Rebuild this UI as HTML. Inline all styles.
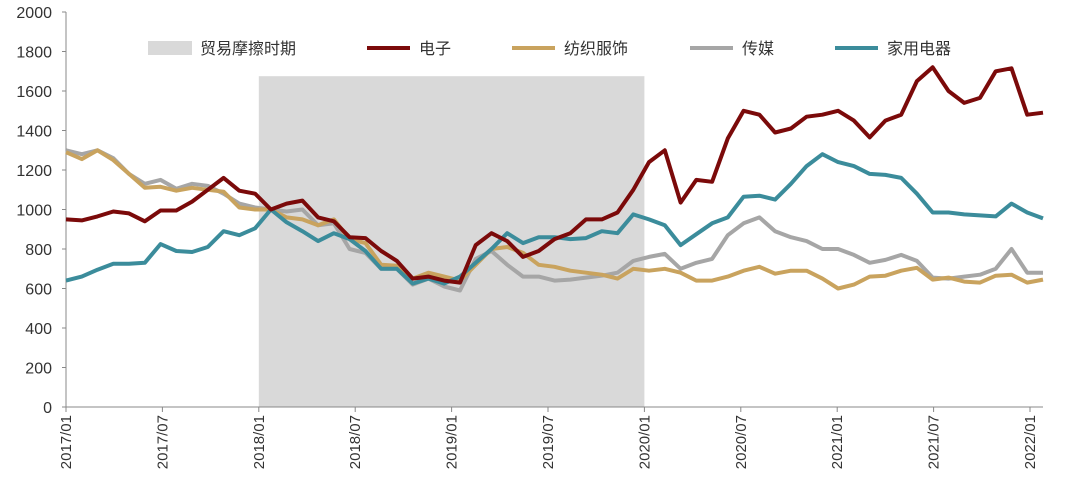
<!DOCTYPE html>
<html><head><meta charset="utf-8">
<style>
html,body{margin:0;padding:0;background:#fff;}
svg{display:block;font-family:"Liberation Sans","Noto Sans CJK SC",sans-serif;}
</style></head>
<body>
<svg id="chart" width="1080" height="494" viewBox="0 0 1080 494">
  <g id="shade"></g>
  <g id="axes"></g>
  <g id="series"></g>
  <g id="legend"></g>
</svg>
<script>
const yTicks = [0,200,400,600,800,1000,1200,1400,1600,1800,2000];
const xTickLabels = ["2017/01","2017/07","2018/01","2018/07","2019/01","2019/07","2020/01","2020/07","2021/01","2021/07","2022/01"];
const xTickMonth = [0,6,12,18,24,30,36,42,48,54,60];
const shadeStartMonth = 12, shadeEndMonth = 36, shadeTop = 1675;
const electronics = [950,945,965,990,980,940,995,995,1040,1100,1160,1095,1080,1000,1030,1045,960,940,860,855,790,740,650,660,640,630,820,880,840,760,790,850,880,950,950,985,1100,1240,1300,1035,1150,1140,1360,1500,1480,1390,1410,1470,1480,1500,1450,1365,1450,1480,1650,1720,1600,1540,1565,1700,1715,1480,1490];
const textile = [1290,1255,1300,1250,1180,1110,1115,1095,1110,1100,1090,1010,1000,1000,960,950,920,950,850,830,720,715,650,680,660,640,720,800,810,780,720,710,690,680,670,650,700,690,700,680,640,640,660,690,710,675,690,690,650,600,620,660,665,690,705,645,655,635,630,665,670,630,645];
const media = [1300,1280,1300,1260,1180,1130,1150,1105,1130,1120,1080,1030,1010,1000,990,1000,920,930,800,780,700,700,620,650,610,590,750,790,720,660,660,640,645,655,665,680,740,760,775,700,730,750,870,930,960,890,860,840,800,800,770,730,745,770,740,655,650,660,670,700,800,680,680];
const appliances = [640,660,695,725,725,730,825,790,785,810,890,870,905,1000,935,890,840,880,850,790,700,700,625,650,625,660,730,800,880,830,860,860,850,855,890,880,975,950,920,820,875,930,960,1065,1070,1050,1130,1220,1280,1240,1220,1180,1175,1160,1080,985,985,975,970,965,1030,985,955];

const NS="http://www.w3.org/2000/svg";
const X0=66, X1=1043, Y0=407, Y1=12;
const n = electronics.length;
function xs(i){return X0 + i*(X1-X0)/(n-1);}
function xm(m){return X0 + m*(1030-X0)/60;}
function ys(v){return Y0 - v*(Y0-Y1)/2000;}
function mk(tag, attrs, parent){const e=document.createElementNS(NS,tag);for(const k in attrs)e.setAttribute(k,attrs[k]);parent.appendChild(e);return e;}

const shade=document.getElementById('shade');
const sr=mk('rect',{x:xm(shadeStartMonth),y:ys(shadeTop),width:xm(shadeEndMonth)-xm(shadeStartMonth),height:Y0-ys(shadeTop),fill:'#d9d9d9'},shade);



const axes=document.getElementById('axes');
const ya=mk('line',{x1:X0,y1:Y1,x2:X0,y2:Y0,stroke:'#888','stroke-width':1},axes);


const xa=mk('line',{x1:X0,y1:Y0,x2:X1,y2:Y0,stroke:'#888','stroke-width':1},axes);


yTicks.forEach(v=>{
  const t=mk('text',{x:52,y:ys(v)+6,'text-anchor':'end','font-size':16,fill:'#333'},axes);
  t.textContent=v;
  
  
  mk('line',{x1:X0-4,y1:ys(v),x2:X0,y2:ys(v),stroke:'#888'},axes);
});
xTickLabels.forEach((lab,k)=>{
  const x=xm(xTickMonth[k]);
  mk('line',{x1:x,y1:Y0,x2:x,y2:Y0+5,stroke:'#888'},axes);
  const t=mk('text',{x:0,y:0,'text-anchor':'end','font-size':15,fill:'#333',transform:`translate(${x+5},${Y0+8}) rotate(-90)`},axes);
  t.textContent=lab;
  
  
});

const seriesG=document.getElementById('series');
const defs=[[media,'#a6a6a6','media-line'],[textile,'#c9a35e','textile-line'],[appliances,'#3b8c9b','appliances-line'],[electronics,'#7b0a0a','electronics-line']];
defs.forEach(([arr,col,name])=>{
  const pts=arr.map((v,i)=>xs(i).toFixed(1)+','+ys(v).toFixed(1)).join(' ');
  const p=mk('polyline',{points:pts,fill:'none',stroke:col,'stroke-width':4,'stroke-linejoin':'round'},seriesG);
  
  
});

const legend=document.getElementById('legend');
const items=[['贸易摩擦时期','#d9d9d9',148,'rect'],['电子','#7b0a0a',367,'line'],['纺织服饰','#c9a35e',512,'line'],['传媒','#a6a6a6',690,'line'],['家用电器','#3b8c9b',835,'line']];
items.forEach(([lab,col,x,kind])=>{
  const g=mk('g',{},legend);
  
  
  if(kind==='rect') mk('rect',{x:x,y:41,width:44,height:14,fill:col},g);
  else mk('line',{x1:x,y1:48,x2:x+43,y2:48,stroke:col,'stroke-width':4},g);
  const t=mk('text',{x:x+52,y:54,'font-size':16,fill:'#333'},g);
  t.textContent=lab;
});
</script>
</body></html>
